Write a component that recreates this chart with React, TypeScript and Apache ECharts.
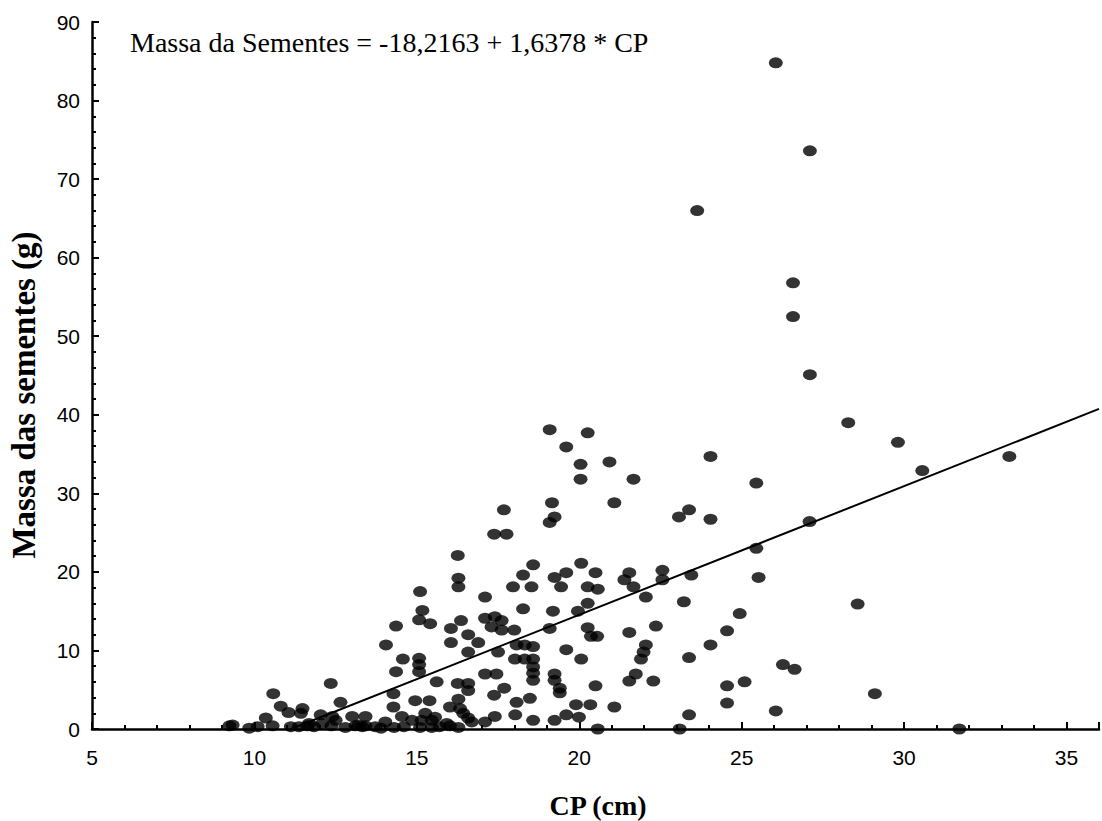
import React, { useEffect, useRef } from "react";
import * as echarts from "echarts";

// CP (cm) values of the observations
const cpValues: number[] = [
  26.05, 27.1, 23.63, 26.58, 26.58, 27.1,
  24.04, 25.45, 24.04, 28.28, 29.81, 30.56, 33.24, 27.09, 25.45, 25.52, 28.57, 24.94, 24.55, 24.04,
  26.27, 26.63, 24.55, 25.09, 24.55, 29.1, 26.05, 31.7,
  19.24, 19.6, 20.06, 20.5, 19.44, 20.26, 20.57, 21.54, 21.39, 21.67, 22.56, 22.56, 23.45, 20.26,
  19.96, 19.19, 22.05, 23.22, 19.09, 20.26, 20.36, 20.55, 21.54, 22.36, 19.6, 20.06, 22.05, 21.98,
  21.9, 23.38, 19.24, 19.24, 19.4, 19.4, 20.5, 21.74, 21.54, 22.28, 19.9, 20.34, 21.08, 19.24,
  19.6, 19.99, 23.38, 20.57, 23.09,
  19.09, 20.26, 19.6, 20.04, 20.04, 20.93, 21.67, 19.16, 21.08, 19.24, 19.09, 17.68, 17.38, 17.76,
  16.26, 16.28, 18.27, 18.58, 23.38, 23.07,
  16.28, 15.1, 15.17, 15.07, 15.41, 14.36, 14.05, 16.05, 16.36, 16.58, 16.89, 16.05, 16.58, 17.1,
  17.1, 17.4, 17.61, 17.3, 17.61, 18.0, 17.96, 18.53, 18.27, 18.07, 18.32, 18.58, 18.02, 18.32,
  18.58, 18.58, 18.58, 18.58, 14.57, 15.07, 15.07, 15.07, 14.36, 15.61, 14.28, 14.28, 14.95, 15.39,
  16.26, 16.58, 16.58, 16.28, 16.02, 17.38, 17.69, 18.07, 18.48, 17.4, 18.03, 18.58, 16.69, 17.1,
  16.43, 12.65, 12.35, 11.48, 12.04, 12.4, 13.01, 13.42, 14.03, 14.54, 14.85, 15.26, 15.46, 15.92,
  11.68, 13.21, 13.72, 17.1, 17.45, 17.5,
  9.23, 9.84, 10.1, 10.35, 10.56, 10.58, 10.81, 11.05, 11.43, 11.12, 11.37, 11.63, 12.09, 12.37,
  13.11, 13.42, 16.58, 9.33, 11.83, 12.5, 13.32, 15.15, 15.56, 16.02, 16.28, 15.46, 15.1, 16.33,
  13.9, 14.3, 14.6, 15.7, 12.8,
];

// Massa das sementes (g) values of the observations
const massValues: number[] = [
  84.8, 73.6, 66.0, 56.8, 52.5, 45.1,
  34.7, 31.3, 26.7, 39.0, 36.5, 32.9, 34.7, 26.4, 23.0, 19.3, 15.9, 14.7, 12.5, 10.7,
  8.2, 7.6, 5.5, 6.0, 3.3, 4.5, 2.3, 0.0,
  19.3, 19.9, 21.1, 19.9, 18.1, 18.1, 17.8, 19.9, 19.0, 18.1, 20.2, 19.0, 19.6, 16.0,
  15.0, 15.0, 16.8, 16.2, 12.8, 12.9, 11.8, 11.8, 12.3, 13.1, 10.1, 8.9, 10.7, 9.8,
  8.9, 9.1, 7.0, 6.2, 5.2, 4.6, 5.5, 7.0, 6.1, 6.1, 3.1, 3.1, 2.8, 1.1,
  1.8, 1.5, 1.8, 0.0, 0.0,
  38.1, 37.7, 35.9, 33.7, 31.8, 34.0, 31.8, 28.8, 28.8, 27.0, 26.3, 27.9, 24.8, 24.8,
  22.1, 19.2, 19.6, 20.9, 27.9, 27.0,
  18.1, 17.5, 15.1, 13.9, 13.4, 13.1, 10.7, 12.8, 13.8, 12.0, 11.0, 11.0, 9.8, 16.8,
  14.1, 14.3, 13.8, 13.0, 12.6, 12.6, 18.1, 18.1, 15.3, 10.7, 10.7, 10.5, 8.9, 8.9,
  8.9, 7.9, 7.1, 6.2, 8.9, 9.0, 8.2, 7.3, 7.3, 6.0, 4.5, 2.8, 3.6, 3.6,
  5.8, 5.8, 4.9, 3.8, 2.8, 4.3, 5.2, 3.4, 3.9, 1.6, 1.8, 1.1, 0.9, 0.9,
  2.0, 3.4, 5.8, 2.6, 1.8, 1.6, 1.6, 1.6, 0.9, 1.6, 1.1, 2.0, 1.1, 0.7,
  0.7, 0.5, 0.3, 7.0, 7.0, 9.8,
  0.4, 0.1, 0.3, 1.4, 0.4, 4.5, 2.9, 2.1, 2.0, 0.3, 0.3, 0.4, 0.7, 0.4,
  0.4, 0.4, 1.4, 0.5, 0.3, 1.1, 0.3, 1.1, 1.5, 0.4, 0.2, 0.2, 0.2, 2.6,
  0.1, 0.2, 0.3, 0.3, 0.2,
];

// Regression: Massa = intercept + slope * CP
const intercept = -18.2163;
const slope = 1.6378;
const equationText = "Massa da Sementes = -18,2163 + 1,6378 * CP";
const xTitle = "CP (cm)";
const yTitle = "Massa das sementes (g)";
const xMin = 5;
const xMax = 36;
const yMin = 0;
const yMax = 90;

export default function App() {
  const ref = useRef<HTMLDivElement>(null);
  useEffect(() => {
    if (!ref.current) return;
    const chart = echarts.init(ref.current, null, { renderer: "svg" });
    const points = cpValues.map((x, i) => [x, massValues[i]]);
    const x0 = -intercept / slope;
    const lineData = [
      [x0, intercept + slope * x0],
      [xMax, intercept + slope * xMax],
    ];
    const sans = "'Liberation Sans', Arial, sans-serif";
    const serif = "'Liberation Serif', 'Times New Roman', serif";
    const axisLine = { show: true, lineStyle: { color: "#000", width: 2.5 } };
    chart.setOption({
      animation: false,
      backgroundColor: "#fff",
      grid: { left: 92, top: 22, right: 0, bottom: 92, containLabel: false },
      xAxis: [
        {
          type: "value",
          min: xMin,
          max: xMax,
          interval: 5,
          axisLine,
          axisTick: { show: true, inside: true, length: 7, lineStyle: { color: "#000", width: 2 } },
          axisLabel: {
            color: "#000",
            fontFamily: sans,
            fontSize: 21,
            margin: 18,
            formatter: (v: number) => (v % 5 === 0 ? String(v) : ""),
          },
          splitLine: { show: false },
        },
        {
          type: "value",
          min: xMin,
          max: xMax,
          interval: 1,
          position: "bottom",
          axisLine: { show: false },
          axisTick: { show: true, inside: true, length: 4, lineStyle: { color: "#000", width: 2 } },
          axisLabel: { show: false },
          splitLine: { show: false },
        },
      ],
      yAxis: [
        {
          type: "value",
          min: yMin,
          max: yMax,
          interval: 10,
          axisLine,
          axisTick: { show: true, inside: true, length: 7, lineStyle: { color: "#000", width: 2 } },
          axisLabel: { color: "#000", fontFamily: sans, fontSize: 21, margin: 12 },
          splitLine: { show: false },
        },
        {
          type: "value",
          min: yMin,
          max: yMax,
          interval: 2,
          position: "left",
          axisLine: { show: false },
          axisTick: { show: true, inside: true, length: 4, lineStyle: { color: "#000", width: 2 } },
          axisLabel: { show: false },
          splitLine: { show: false },
        },
      ],
      graphic: [
        {
          type: "text",
          left: 130,
          top: 28,
          style: { text: equationText, fill: "#000", font: `28px ${serif}` },
        },
        {
          type: "text",
          x: 598,
          y: 805,
          style: {
            text: xTitle,
            fill: "#000",
            font: `bold 28px ${serif}`,
            align: "center",
            verticalAlign: "middle",
          },
        },
        {
          type: "text",
          x: 24,
          y: 395,
          rotation: Math.PI / 2,
          style: {
            text: yTitle,
            fill: "#000",
            font: `bold 33px ${serif}`,
            align: "center",
            verticalAlign: "middle",
          },
        },
      ],
      series: [
        {
          type: "line",
          data: lineData,
          xAxisIndex: 0,
          yAxisIndex: 0,
          showSymbol: false,
          symbol: "none",
          clip: true,
          lineStyle: { color: "#000", width: 2 },
          z: 3,
        },
        {
          type: "scatter",
          data: points,
          xAxisIndex: 0,
          yAxisIndex: 0,
          symbol: "path://M0,1A1,1,0,1,1,2,1A1,1,0,1,1,0,1Z",
          symbolSize: [14, 11],
          itemStyle: { color: "#000" },
          clip: false,
          z: 4,
        },
      ],
    });
    return () => chart.dispose();
  }, []);
  return (
    <div
      ref={ref}
      style={{ position: "fixed", left: 0, top: 0, width: 1102, height: 821, background: "#fff" }}
    />
  );
}
